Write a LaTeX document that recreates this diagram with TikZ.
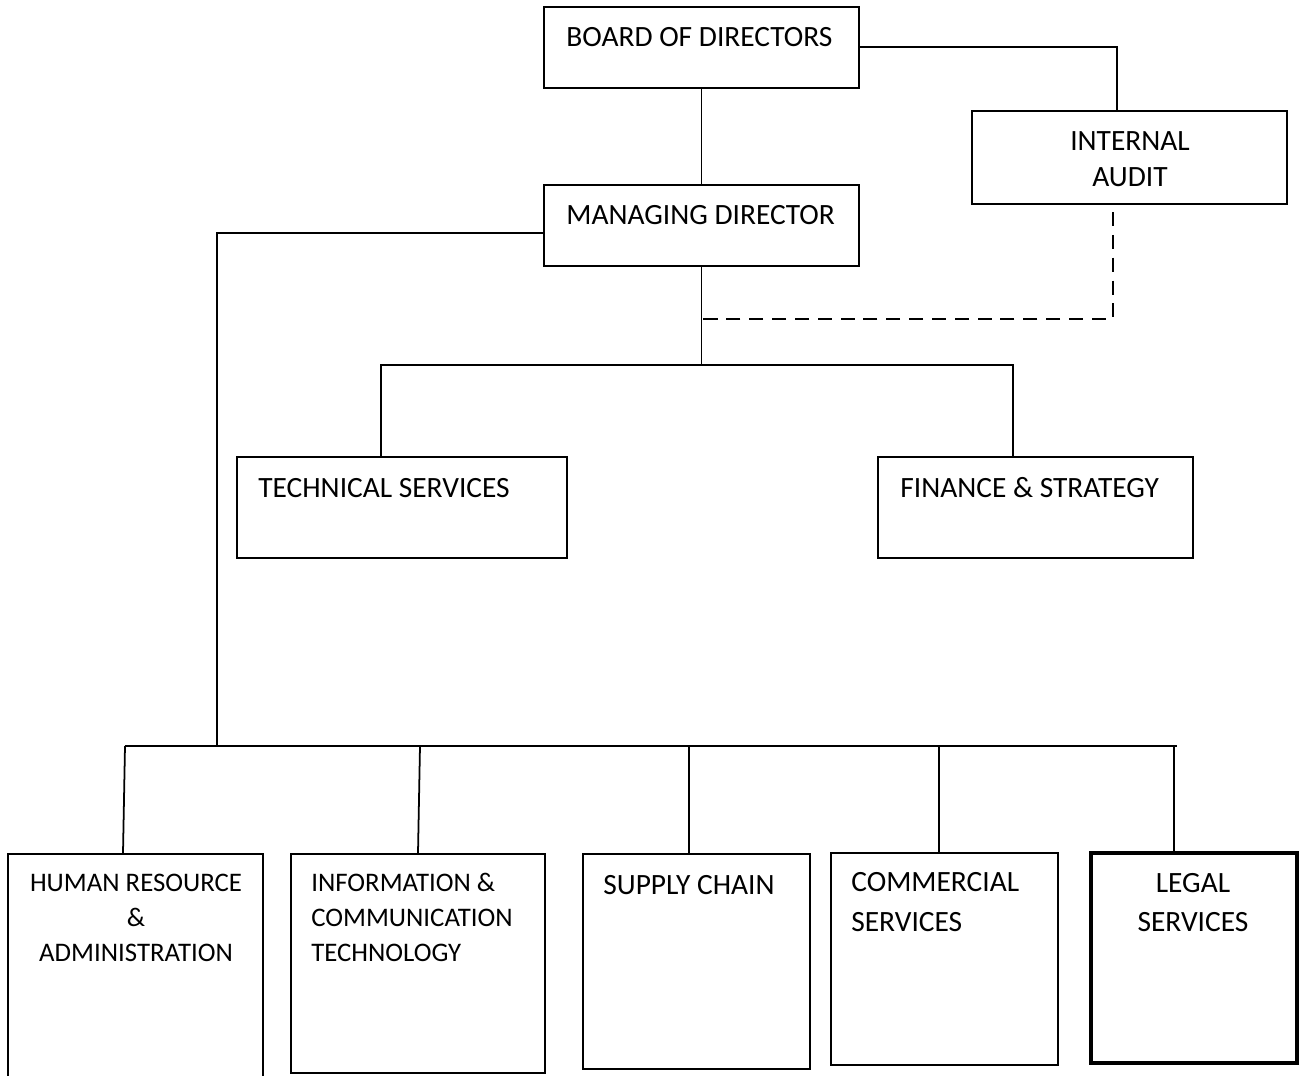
\documentclass[tikz,border=0pt]{standalone}
\usepackage{fontspec}
\setmainfont{Carlito}
\usetikzlibrary{fit}
\begin{document}
\begin{tikzpicture}[x=0.02cm,y=-0.02cm,
  box/.style={draw, line width=1pt, inner sep=0pt},
  thickbox/.style={draw, line width=2pt, inner sep=0pt},
  link/.style={line width=1pt},
  dlink/.style={line width=1pt, dash pattern=on 8pt off 5pt},
  lblw/.style={font=\fontsize{16.75}{19}\selectfont, inner sep=0pt, anchor=base west},
  lblc/.style={font=\fontsize{16.75}{19}\selectfont, inner sep=0pt, anchor=base},
  small/.style={font=\fontsize{15.25}{18}\selectfont}]
\useasboundingbox (0,0) rectangle (1303,1076);
\clip (0,0) rectangle (1303,1076);
% boxes
\node[box, fit={(544,7) (859,88)}] (bod) {};
\node[box, fit={(972,111) (1287,204)}] (ia) {};
\node[box, fit={(544,185) (859,266)}] (md) {};
\node[box, fit={(237,457) (567,558)}] (ts) {};
\node[box, fit={(878,457) (1193,558)}] (fs) {};
\node[box, fit={(8,854) (263,1100)}] (hr) {};
\node[box, fit={(291,854) (545,1073)}] (ict) {};
\node[box, fit={(583,854) (810,1069)}] (sc) {};
\node[box, fit={(831,853) (1058,1065)}] (cs) {};
\node[thickbox, fit={(1091,853) (1297,1063)}] (ls) {};
% texts
\node[lblw] (tbod) at (566,46) {BOARD OF DIRECTORS};
\node[lblc] (tia1) at (1130,150) {INTERNAL};
\node[lblc] (tia2) at (1130,186) {AUDIT};
\node[lblw] (tmd) at (566,224) {MANAGING DIRECTOR};
\node[lblw] (tts) at (258,497) {TECHNICAL SERVICES};
\node[lblw] (tfs) at (900,497) {FINANCE \& STRATEGY};
\node[lblc, small] (thr1) at (136,891) {HUMAN RESOURCE};
\node[lblc, small] (thr2) at (136,926) {\&};
\node[lblc, small] (thr3) at (136,961) {ADMINISTRATION};
\node[lblw, small] (tict1) at (311,891) {INFORMATION \&};
\node[lblw, small] (tict2) at (311,926) {COMMUNICATION};
\node[lblw, small] (tict3) at (311,961) {TECHNOLOGY};
\node[lblw] (tsc) at (603,894) {SUPPLY CHAIN};
\node[lblw] (tcs1) at (851,891) {COMMERCIAL};
\node[lblw] (tcs2) at (851,931) {SERVICES};
\node[lblc] (tls1) at (1193,892) {LEGAL};
\node[lblc] (tls2) at (1193,931) {SERVICES};
% helper coordinates
\coordinate (ax) at (1117,47);
\coordinate (j1) at (701.5,365);
\coordinate (tx) at (381,0);
\coordinate (fx) at (1013,0);
\coordinate (d1) at (1113,212);
\coordinate (d2) at (1113,319);
\coordinate (d3) at (701.5,319);
\coordinate (mdl) at (544,233);
\coordinate (vl) at (217,233);
\coordinate (bus) at (217,746);
\coordinate (busl) at (125,746);
\coordinate (busr) at (1177,746);
\coordinate (b1) at (125,746);
\coordinate (b2) at (420,746);
\coordinate (b3) at (689,746);
\coordinate (b4) at (939,746);
\coordinate (b5) at (1174,746);
\coordinate (e1) at (123,0);
\coordinate (e2) at (418,0);
\coordinate (e3) at (689,0);
\coordinate (e4) at (939,0);
\coordinate (e5) at (1174,0);
% connectors
\draw[link] (bod.east |- ax) -- (ax) -- (ia.north -| ax);
\draw[link] (bod.south) -- (md.north);
\draw[link] (md.south) -- (j1);
\draw[link] (ts.north -| tx) -- (tx |- j1) -- (fx |- j1) -- (fs.north -| fx);
\draw[dlink] (d1) -- (d2) -- (d3);
\draw[link] (mdl) -- (vl) -- (bus);
\draw[link] (busl) -- (busr);
\draw[link] (b1) -- (hr.north -| e1);
\draw[link] (b2) -- (ict.north -| e2);
\draw[link] (b3) -- (sc.north -| e3);
\draw[link] (b4) -- (cs.north -| e4);
\draw[link] (b5) -- (ls.north -| e5);
\end{tikzpicture}
\end{document}
